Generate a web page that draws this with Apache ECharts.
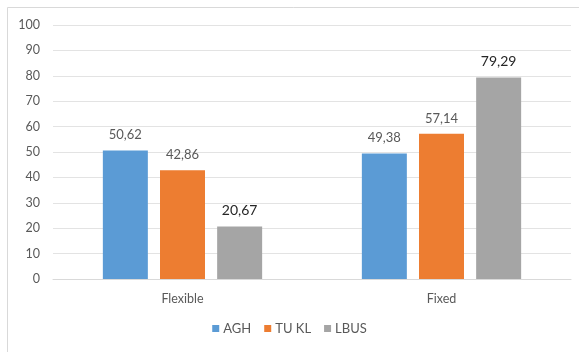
<!DOCTYPE html>
<html>
<head>
<meta charset="utf-8">
<title>Flexible vs Fixed</title>
<script src="https://cdn.jsdelivr.net/npm/echarts@6/dist/echarts.min.js"></script>
<style>
  html, body { margin: 0; padding: 0; background: #ffffff; }
  #chart { width: 579px; height: 352px; }
</style>
</head>
<body>
<div id="chart"></div>
<script>
// Categories and series values (percent)
const categories = ['Flexible', 'Fixed'];
const seriesNames = ['AGH', 'TU KL', 'LBUS'];
const aghValues = [50.62, 49.38];
const tuklValues = [42.86, 57.14];
const lbusValues = [20.67, 79.29];
const seriesColors = ['#5B9BD5', '#ED7D31', '#A5A5A5'];

const fontFamily = 'Lato, "Open Sans", "Noto Sans", sans-serif';

// Values are shown with a comma as the decimal separator
const fmt = v => v.toFixed(2).replace('.', ',');

function barSeries(name, data, color, labelColor, labelSize) {
  return {
    name: name,
    type: 'bar',
    data: data,
    barWidth: 45,
    barGap: '27%',
    itemStyle: { color: color },
    label: {
      show: true,
      position: 'top',
      distance: 9,
      fontFamily: fontFamily,
      fontSize: labelSize,
      color: labelColor,
      formatter: p => fmt(p.value)
    }
  };
}

const chart = echarts.init(document.getElementById('chart'), null, { renderer: 'canvas' });

chart.setOption({
  animation: false,
  backgroundColor: '#ffffff',
  graphic: [{
    type: 'rect',
    shape: { x: 7.5, y: 7.5, width: 600, height: 400 },
    style: { fill: 'none', stroke: '#d9d9d9', lineWidth: 1 },
    silent: true,
    z: -1
  }],
  grid: { left: 53, right: 8, top: 25, bottom: 73, containLabel: false },
  legend: {
    data: seriesNames,
    bottom: 12,
    left: 'center',
    icon: 'rect',
    itemWidth: 7,
    itemHeight: 7,
    itemGap: 13,
    textStyle: { fontFamily: fontFamily, fontSize: 13, color: '#595959', padding: [0, 0, 0, -1] }
  },
  xAxis: {
    type: 'category',
    data: categories,
    axisLine: { lineStyle: { color: '#d9d9d9' } },
    axisTick: { show: false },
    axisLabel: { fontFamily: fontFamily, fontSize: 12.5, color: '#595959', margin: 13 }
  },
  yAxis: {
    type: 'value',
    min: 0,
    max: 100,
    interval: 10,
    axisLine: { show: false },
    axisTick: { show: false },
    axisLabel: { fontFamily: fontFamily, fontSize: 12.5, color: '#595959', margin: 13 },
    splitLine: { lineStyle: { color: '#e3e3e3' } }
  },
  series: [
    barSeries(seriesNames[0], aghValues, seriesColors[0], '#595959', 13),
    barSeries(seriesNames[1], tuklValues, seriesColors[1], '#595959', 13),
    barSeries(seriesNames[2], lbusValues, seriesColors[2], '#262626', 14)
  ]
});
</script>
</body>
</html>
